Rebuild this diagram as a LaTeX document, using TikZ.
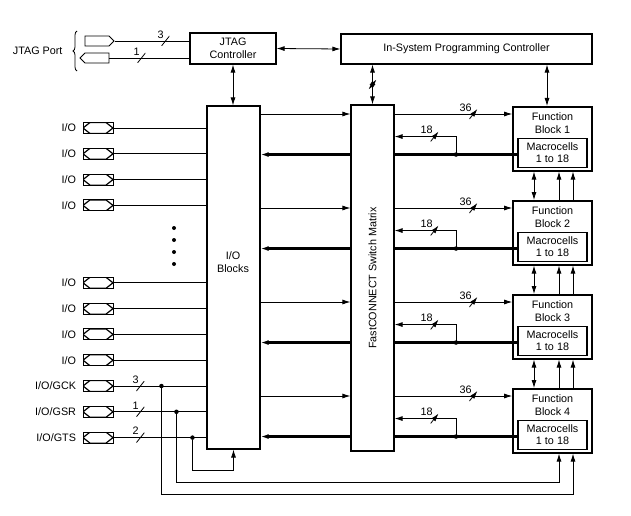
\documentclass[tikz,border=0pt]{standalone}
\usepackage{fontspec}
\setmainfont{Liberation Sans}
\usetikzlibrary{positioning,arrows.meta,shapes.symbols,decorations.pathreplacing,calc}
\begin{document}
\begin{tikzpicture}[x=1pt, y=-1pt, font=\fontsize{10.8}{12.6}\selectfont,
    blk/.style = {draw, line width=1.2pt, rectangle, align=center, inner sep=0pt},
    fbbox/.style = {draw, line width=1.6pt, minimum width=79pt, minimum height=64pt},
    mcbox/.style = {draw, line width=1.1pt, align=center, minimum width=69pt, minimum height=29pt, inner sep=0pt},
    iopin/.style = {draw, line width=0.9pt, minimum width=30pt, minimum height=11pt, inner sep=0pt,
        label={[label distance=3pt]left:#1},
        path picture={\draw[line width=1.2pt] (path picture bounding box.west) -- ([xshift=7pt]path picture bounding box.north west)
            -- ([xshift=-7pt]path picture bounding box.north east) -- (path picture bounding box.east)
            -- ([xshift=-7pt]path picture bounding box.south east) -- ([xshift=7pt]path picture bounding box.south west) -- cycle;}},
    jpin/.style = {draw, line width=0.9pt, signal, signal to=#1, minimum width=29pt, minimum height=10pt, inner sep=0pt},
    wire/.style = {line width=0.8pt},
    thickbus/.style = {line width=2.2pt},
    sig/.style = {-{Latex[length=8pt,width=5pt]}},
    dsig/.style = {{Latex[length=8pt,width=5pt]}-{Latex[length=8pt,width=5pt]}},
    busmark/.style = {inner sep=0pt, minimum width=8pt, minimum height=10pt,
        label={[inner sep=0pt, xshift=3pt, yshift=-2pt]above left:#1},
        path picture={\draw[line width=0.8pt] (path picture bounding box.south west) -- (path picture bounding box.north east);}},
    busmark/.default={},
    jdot/.style = {circle, fill, inner sep=0pt, minimum size=4.5pt}]
    \useasboundingbox (0,0) rectangle (631,516);
    % JTAG port and controllers
    \node[anchor=east] (jport) at (66,51) {JTAG Port};
    \draw[decorate, decoration={brace, amplitude=4pt}, line width=0.8pt] ([xshift=11pt,yshift=-20pt]jport.east) -- ([xshift=11pt,yshift=20pt]jport.east);
    \node[jpin=east] (tdi) at (97,41) {};
    \node[jpin=west] (tdo) at (97,58) {};
    \node[blk, minimum width=86pt, minimum height=31pt] (jtag) at (233,48.5) {JTAG\\Controller};
    \node[blk, minimum width=251pt, minimum height=30pt] (isp) at (466.5,49) {In-System Programming Controller};
    \draw[wire] (tdi.east) -- (tdi.east -| jtag.west) node[busmark=3, pos=0.68] {};
    \draw[wire] (tdo.east) -- (tdo.east -| jtag.west) node[busmark=1, pos=0.4] {};
    % I/O blocks and switch matrix
    \node[blk, minimum width=53pt, minimum height=343pt] (iob) at (233.5,277.5) {};
    \node[align=center] (iobtxt) at (233,262) {I/O\\Blocks};
    \node[blk, minimum width=43pt, minimum height=346pt, label={[rotate=90]center:FastCONNECT Switch Matrix}] (sw) at (372.5,278) {};
    \draw[wire, dsig] (jtag.east) -- (isp.west);
    \draw[wire, dsig] (jtag.south) -- (jtag.south |- iob.north);
    \draw[wire, dsig] (isp.south -| sw.north) -- (sw.north) node[busmark, midway] {};
    % function blocks
    \foreach \i/\t in {1/106,2/200,3/294,4/388} {
        \node[fbbox, anchor=north, label={[align=center, anchor=center, yshift=-17pt]north:Function\\Block \i}] (fb\i) at (552.5,\t) {};
        \node[mcbox, above=4pt of fb\i.south] (mc\i) {Macrocells\\1 to 18};
        \coordinate (in\i) at ([yshift=-8pt]fb\i.north west);
        \coordinate (out\i) at ([yshift=-2pt]mc\i.west);
        \coordinate (j\i) at ($(sw.east |- out\i)!0.5!(out\i)$);
        \draw[wire, sig] (iob.east |- in\i) -- (sw.west |- in\i);
        \draw[wire, sig] (sw.east |- in\i) -- (in\i) node[busmark=36, pos=0.67] {};
        \draw[thickbus] (out\i) -- (sw.east |- out\i);
        \draw[thickbus, sig] (sw.west |- out\i) -- (iob.east |- out\i);
        \draw[wire, sig] (j\i) -- ++(0,-18) coordinate (k\i) -- (sw.east |- k\i) node[busmark=18, pos=0.35] {};
        \node[jdot] (dot\i) at (j\i) {};
    }
    \draw[wire, dsig] ([xshift=-5.5pt]fb1.north) -- ([xshift=-5.5pt]fb1.north |- isp.south);
    \foreach \i [evaluate=\i as \nx using int(\i+1)] in {1,2,3} {
        \draw[wire, dsig] ([xshift=-18.5pt]fb\i.south) -- ([xshift=-18.5pt]fb\nx.north);
        \draw[wire, sig] ([xshift=6.5pt]fb\nx.north) -- ([xshift=6.5pt]fb\i.south);
        \draw[wire, sig] ([xshift=20.5pt]fb\nx.north) -- ([xshift=20.5pt]fb\i.south);
    }
    % I/O pins
    \foreach \k in {0,1,2,3,6,7,8,9} {
        \node[iopin=I/O] (io\k) at (98,128+25.8*\k) {};
        \draw[wire] (io\k.east) -- (io\k.east -| iob.west);
    }
    \foreach \k in {0,...,3}
        \node[jdot, minimum size=4pt] (vd\k) at (174,228+12*\k) {};
    \node[iopin=I/O/GCK] (gck) at (98,386) {};
    \node[iopin=I/O/GSR] (gsr) at (98,411.8) {};
    \node[iopin=I/O/GTS] (gts) at (98,437.6) {};
    \draw[wire] (gck.east) -- (gck.east -| iob.west) node[busmark=3, pos=0.29] {};
    \draw[wire] (gsr.east) -- (gsr.east -| iob.west) node[busmark=1, pos=0.29] {};
    \draw[wire] (gts.east) -- (gts.east -| iob.west) node[busmark=2, pos=0.29] {};
    \node[jdot] (dgck) at ([xshift=48pt]gck.east) {};
    \node[jdot] (dgsr) at ([xshift=63pt]gsr.east) {};
    \node[jdot] (dgts) at ([xshift=79pt]gts.east) {};
    \draw[wire, sig] (dgts) -- ++(0,32.4) -| (iob.south);
    \draw[wire, sig] (dgsr) -- ++(0,70.2) -| ([xshift=6.5pt]fb4.south);
    \draw[wire, sig] (dgck) -- ++(0,108) -| ([xshift=20.5pt]fb4.south);
\end{tikzpicture}
\end{document}
